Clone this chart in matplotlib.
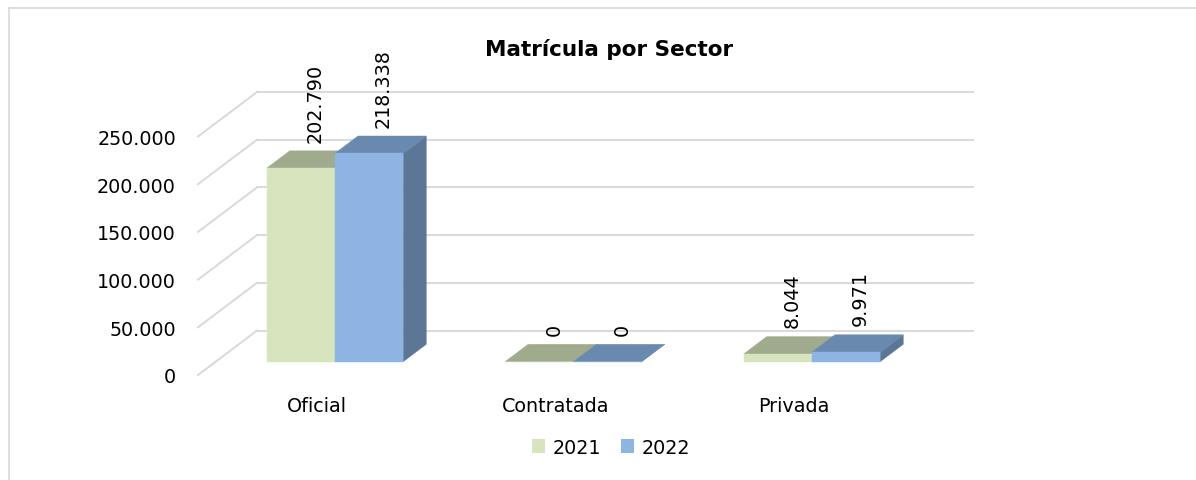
import matplotlib
matplotlib.use('Agg')
import matplotlib.pyplot as plt
from matplotlib.patches import Polygon, Patch
from matplotlib.lines import Line2D

# data
categories = ['Oficial', 'Contratada', 'Privada']
years = ['2021', '2022']
vals_2021 = [202790, 0, 8044]
vals_2022 = [218338, 0, 9971]
yticks = [0, 50000, 100000, 150000, 200000, 250000]

# colours: front, top, side
col_2021 = ('#D7E4BD', '#A0AB8E', '#8E9A7D')
col_2022 = ('#8DB4E2', '#6A89AF', '#5C7796')

W, H = 1196, 481
fig = plt.figure(figsize=(W / 100, H / 100), dpi=100)
ax = fig.add_axes([198 / W, (H - 376) / H, 715.5 / W, 238.5 / H])
ax.set_xlim(-0.5, 2.5)
ax.set_ylim(0, 250000)
ax.axis('off')

# depth vector in data units (floor front d=0 -> back wall d=1)
DX = 59 * 3 / 715.5
DY = 44.5 * 250000 / 238.5
bw = 0.2864          # bar width
d0, d1 = 0.3, 0.69   # bar front / back depth
fs = 13.8


def proj(x, v, d):
    return (x + d * DX, v + d * DY)


grid = '#D9D9D9'
for v in yticks:
    # back wall
    a, b = proj(-0.5, v, 1), proj(2.5, v, 1)
    ax.plot([a[0], b[0]], [a[1], b[1]], color=grid, lw=1.4, clip_on=False, zorder=1)
    # side wall
    c = proj(-0.5, v, 0)
    ax.plot([c[0], a[0]], [c[1], a[1]], color=grid, lw=1.4, clip_on=False, zorder=1)
    ax.annotate(f'{v:,}'.replace(',', '.'), c, xytext=(-22, -2),
                textcoords='offset pixels', ha='right', va='center',
                fontsize=fs, color='#000000')


def bar3d(x0, v, cols):
    x1 = x0 + bw
    top = [proj(x0, v, d0), proj(x1, v, d0), proj(x1, v, d1), proj(x0, v, d1)]
    side = [proj(x1, 0, d0), proj(x1, 0, d1), proj(x1, v, d1), proj(x1, v, d0)]
    front = [proj(x0, 0, d0), proj(x1, 0, d0), proj(x1, v, d0), proj(x0, v, d0)]
    for pts, c in [(side, cols[2]), (top, cols[1]), (front, cols[0])]:
        ax.add_patch(Polygon(pts, closed=True, facecolor=c, edgecolor=c,
                             lw=0.3, clip_on=False, zorder=3))
    ax.annotate(f'{v:,}'.replace(',', '.'), proj(x0 + bw / 2, v, (d0 + d1) / 2),
                xytext=(3, 18), textcoords='offset pixels', rotation=90,
                ha='center', va='bottom', fontsize=fs, zorder=4)


for i, cat in enumerate(categories):
    bar3d(i - bw, vals_2021[i], col_2021)
    bar3d(i, vals_2022[i], col_2022)
    ax.annotate(cat, proj(i, 0, 0), xytext=(0, -31), textcoords='offset pixels',
                ha='center', va='center', fontsize=fs)

fig.text(609 / W, 1 - 50 / H, 'Matrícula por Sector', ha='center', va='center',
         fontsize=15.5, fontweight='bold')

handles = [Patch(facecolor=col_2021[0], label=years[0]),
           Patch(facecolor=col_2022[0], label=years[1])]
fig.legend(handles=handles, loc='center', bbox_to_anchor=(611 / W, 1 - 448 / H),
           ncol=2, frameon=False, fontsize=fs, handlelength=0.7,
           handleheight=0.7, handletextpad=0.4, columnspacing=1.0)

# outer chart frame (top and left edges only)
fig.add_artist(Line2D([9 / W, 1], [1 - 9 / H, 1 - 9 / H], color=grid, lw=1.2,
                      transform=fig.transFigure))
fig.add_artist(Line2D([9 / W, 9 / W], [0, 1 - 9 / H], color=grid, lw=1.2,
                      transform=fig.transFigure))

fig.savefig('out.png', dpi=100)
